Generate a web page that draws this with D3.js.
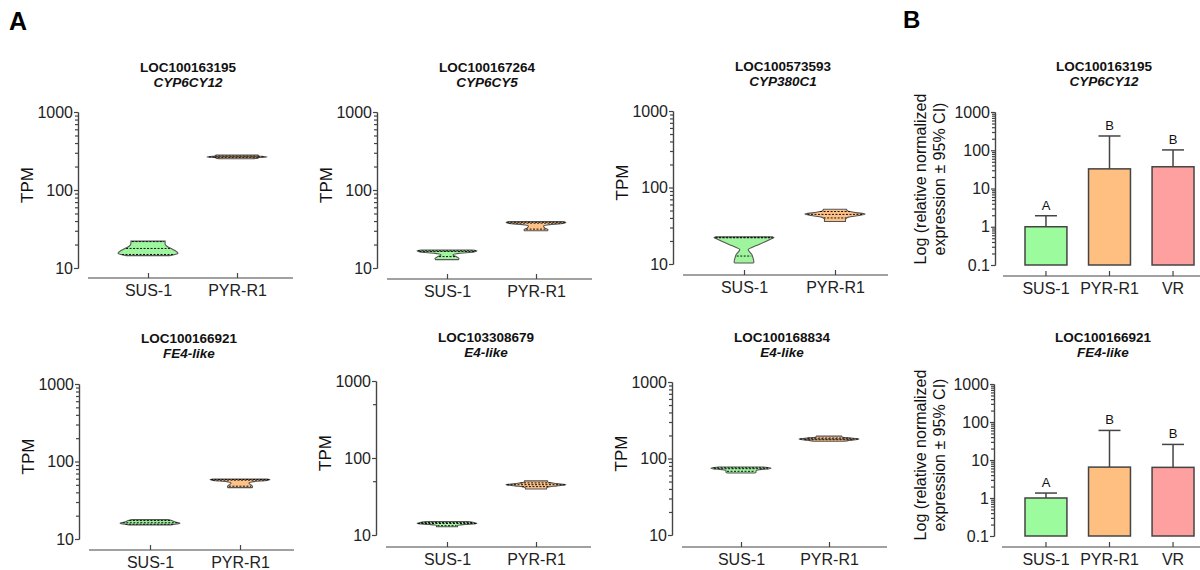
<!DOCTYPE html>
<html>
<head>
<meta charset="utf-8">
<script src="https://cdn.jsdelivr.net/npm/d3@7"></script>
<style>
  body { margin: 0; background: #fff; }
  text { font-family: "Liberation Sans", Arial, sans-serif; }
</style>
</head>
<body>
<script>
// ---- data ----
var groups = ['SUS-1', 'PYR-R1']
var barGroups = ['SUS-1', 'PYR-R1', 'VR']

var geneIds = ['LOC100163195', 'LOC100167264', 'LOC100573593', 'LOC100166921', 'LOC103308679', 'LOC100168834']
var geneNames = ['CYP6CY12', 'CYP6CY5', 'CYP380C1', 'FE4-like', 'E4-like', 'E4-like']

// violin outlines, top to bottom: [TPM, relative width]
var susProfiles = [
  [[22.1, 0.57], [20.5, 0.57], [19, 0.63], [17.5, 0.8], [16.2, 0.95], [15.5, 1.0], [14.9, 0.9], [14.4, 0.72]],
  [[17.0, 0.85], [16.6, 1.0], [16.0, 0.9], [15.4, 0.4], [14.7, 0.2], [14.0, 0.3], [13.3, 0.4], [12.8, 0.38]],
  [[22.6, 0.95], [22.2, 1.0], [21.2, 0.9], [19.5, 0.7], [18, 0.5], [16.7, 0.3], [15.5, 0.14], [14.5, 0.18], [13.5, 0.25], [12, 0.3], [10.6, 0.33], [10.3, 0.3]],
  [[17.8, 0.6], [17.3, 0.72], [16.5, 0.85], [16.0, 1.0], [15.6, 0.9], [15.2, 0.7]],
  [[14.9, 0.7], [14.5, 0.9], [14.1, 1.0], [13.7, 0.6], [13.3, 0.35], [12.8, 0.35]],
  [[77.5, 0.75], [75.5, 0.95], [74, 1.0], [72, 0.7], [69, 0.5], [66, 0.5], [64.5, 0.45]]
]
var pyrProfiles = [
  [[280, 0.7], [274, 0.72], [268, 0.9], [265, 1.0], [261, 0.72], [256, 0.7], [252, 0.5]],
  [[39.5, 0.9], [38.5, 1.0], [37.2, 0.9], [36, 0.45], [34.5, 0.25], [32.5, 0.3], [31, 0.4], [30, 0.38]],
  [[52, 0.38], [49.5, 0.42], [47, 0.7], [45, 1.0], [43, 0.8], [41, 0.45], [38.5, 0.35], [36, 0.35]],
  [[59.5, 0.9], [58.5, 1.0], [57, 0.9], [55, 0.45], [52.5, 0.3], [49.5, 0.38], [47, 0.42], [46, 0.4]],
  [[50.5, 0.38], [48.5, 0.4], [46.5, 0.7], [45, 1.0], [43.5, 0.7], [42, 0.4], [40.5, 0.35], [39.5, 0.35]],
  [[196, 0.42], [190, 0.45], [184, 0.8], [180, 1.0], [175, 0.8], [170, 0.6], [168, 0.5]]
]
// dashed quartile / median lines
var susQuartiles = [[21.8, 17.8, 14.9], [16.6, 16.3, 14.0], [22.3, 22.0, 12.7], [17.3, 16.2, 15.5], [14.5, 14.1, 13.2], [75.5, 73.5, 68]]
var pyrQuartiles = [[272, 266, 262], [38.5, 37.6, 31.5], [48.5, 44.5, 40], [58.5, 57.5, 48], [47.5, 45, 42.5], [185, 180, 176]]

var tpmTicks = [10, 100, 1000]
var relTicks = [0.1, 1, 10, 100, 1000]

var barGeneIds = ['LOC100163195', 'LOC100166921']
var barGeneNames = ['CYP6CY12', 'FE4-like']
var barMeans = [[1, 32.6, 37], [1, 6.5, 6.4]]
var barUpper = [[1.94, 236, 102], [1.35, 60, 25.7]]
var barLetters = ['A', 'B', 'B']

var violinColors = ['#9ef59e', '#ffc286']
var barColors = ['#9cfb9c', '#ffbf80', '#ffa0a0']

// ---- layout ----
var panels = [
  {ax: 78, top: 112, bot: 268, base: 278, title: 72, xt: [148, 237]},
  {ax: 377, top: 112, bot: 268, base: 279, title: 72, xt: [447, 536]},
  {ax: 673, top: 111, bot: 264, base: 275, title: 71, xt: [744, 835]},
  {ax: 79, top: 384, bot: 539, base: 550, title: 343, xt: [150, 240]},
  {ax: 376, top: 381, bot: 535, base: 547, title: 342, xt: [447, 536], sparse: true},
  {ax: 672, top: 382, bot: 535, base: 547, title: 342, xt: [741, 829]}
]
var barPanels = [
  {ax: 995, top: 112, bot: 265, base: 276, title: 71},
  {ax: 994, top: 384, bot: 536, base: 547, title: 342}
]

var svg = d3.select('body').append('svg')
  .attr('width', 1200).attr('height', 570)

function minorTicks(lo, hi) {
  var out = []
  for (var d = lo; d < hi; d *= 10) {
    for (var k = 2; k < 10; k++) out.push(+(d * k).toPrecision(3))
  }
  return out
}

function styleAxis(sel) {
  sel.attr('font-size', 16).attr('font-family', '"Liberation Sans", Arial, sans-serif').attr('color', '#222')
  sel.selectAll('path, line').attr('stroke', '#444').attr('stroke-width', 1.2)
}

function title(g, cx, y, id, name) {
  g.append('text').attr('x', cx).attr('y', y).attr('text-anchor', 'middle')
    .attr('font-size', 13.5).attr('font-weight', 'bold').attr('fill', '#111').text(id)
  g.append('text').attr('x', cx).attr('y', y + 15).attr('text-anchor', 'middle')
    .attr('font-size', 13.5).attr('font-weight', 'bold').attr('font-style', 'italic').attr('fill', '#111').text(name)
}

function widthAt(profile, v) {
  for (var k = 0; k < profile.length - 1; k++) {
    var a = profile[k], b = profile[k + 1]
    if (v <= a[0] && v >= b[0]) {
      var t = (Math.log(a[0]) - Math.log(v)) / (Math.log(a[0]) - Math.log(b[0]))
      return a[1] + t * (b[1] - a[1])
    }
  }
  return v > profile[0][0] ? profile[0][1] : profile[profile.length - 1][1]
}

// ---- violin panels ----
panels.forEach(function(p, i) {
  var g = svg.append('g')
  var y = d3.scaleLog().domain([10, 1000]).range([p.bot, p.top])
  var x = d3.scalePoint().domain(groups).range(p.xt)

  g.append('g').attr('transform', 'translate(' + p.ax + ',0)')
    .call(d3.axisLeft(y).tickValues(p.sparse ? [50, 500] : minorTicks(10, 1000)).tickSize(3).tickFormat('').tickSizeOuter(0))
    .call(styleAxis)
  g.append('g').attr('transform', 'translate(' + p.ax + ',0)')
    .call(d3.axisLeft(y).tickValues(tpmTicks).tickSize(4).tickPadding(1).tickFormat(d3.format('d')).tickSizeOuter(0))
    .call(styleAxis)

  g.append('line').attr('x1', p.ax + 10).attr('x2', p.ax + 215)
    .attr('y1', p.base).attr('y2', p.base).attr('stroke', '#444').attr('stroke-width', 1.2)
  g.append('g').attr('transform', 'translate(0,' + p.base + ')')
    .call(d3.axisBottom(x).tickSize(-5).tickPadding(7).tickSizeOuter(0))
    .call(styleAxis)
    .select('.domain').remove()

  g.append('text').attr('transform', 'translate(' + (p.ax - 45) + ',' + ((p.top + p.bot) / 2 - 5) + ') rotate(-90)')
    .attr('text-anchor', 'middle').attr('font-size', 17).attr('fill', '#111').text('TPM')

  title(g, p.ax + 110, p.title, geneIds[i], geneNames[i])

  var sets = [[susProfiles[i], susQuartiles[i]], [pyrProfiles[i], pyrQuartiles[i]]]
  sets.forEach(function(s, j) {
    var cx = x(groups[j])
    var area = d3.area().curve(d3.curveMonotoneY)
      .y(function(d) { return y(d[0]) })
      .x0(function(d) { return cx - d[1] * 30 })
      .x1(function(d) { return cx + d[1] * 30 })
    g.append('path').datum(s[0]).attr('d', area)
      .attr('fill', violinColors[j]).attr('stroke', '#555').attr('stroke-width', 1.1)
    s[1].forEach(function(q) {
      var w = widthAt(s[0], q) * 30 - 1
      g.append('line').attr('x1', cx - w).attr('x2', cx + w)
        .attr('y1', y(q)).attr('y2', y(q))
        .attr('stroke', '#111').attr('stroke-width', 1).attr('stroke-dasharray', '2,1.5')
    })
  })
})

// ---- qPCR bar panels ----
barPanels.forEach(function(p, i) {
  var g = svg.append('g')
  var y = d3.scaleLog().domain([0.1, 1000]).range([p.bot, p.top])
  var x = d3.scaleBand().domain(barGroups).range([1025, 1194]).paddingInner(0.34)

  g.append('g').attr('transform', 'translate(' + p.ax + ',0)')
    .call(d3.axisLeft(y).tickValues(minorTicks(0.1, 1000)).tickSize(3).tickFormat('').tickSizeOuter(0))
    .call(styleAxis)
  g.append('g').attr('transform', 'translate(' + p.ax + ',0)')
    .call(d3.axisLeft(y).tickValues(relTicks).tickSize(4).tickPadding(1)
      .tickFormat(function(d) { return d < 1 ? String(d) : d3.format('d')(d) }).tickSizeOuter(0))
    .call(styleAxis)

  g.append('line').attr('x1', p.ax + 8).attr('x2', 1200)
    .attr('y1', p.base).attr('y2', p.base).attr('stroke', '#444').attr('stroke-width', 1.2)
  g.append('g').attr('transform', 'translate(0,' + p.base + ')')
    .call(d3.axisBottom(x).tickSize(-5).tickPadding(7).tickSizeOuter(0))
    .call(styleAxis)
    .select('.domain').remove()

  var lab = g.append('text').attr('transform', 'translate(0,' + (i === 0 ? 179 : 455) + ') rotate(-90)')
    .attr('text-anchor', 'middle').attr('font-size', 16).attr('fill', '#111')
  lab.append('tspan').attr('x', 0).attr('y', 926).text('Log (relative normalized')
  lab.append('tspan').attr('x', 0).attr('y', 945).text('expression \u00b1 95% CI)')

  title(g, p.ax + 109, p.title, barGeneIds[i], barGeneNames[i])

  barGroups.forEach(function(b, j) {
    var cx = x(b) + x.bandwidth() / 2
    var m = barMeans[i][j], u = barUpper[i][j]
    g.append('line').attr('x1', cx).attr('x2', cx).attr('y1', y(m)).attr('y2', y(u))
      .attr('stroke', '#444').attr('stroke-width', 1.5)
    g.append('line').attr('x1', cx - 11).attr('x2', cx + 11).attr('y1', y(u)).attr('y2', y(u))
      .attr('stroke', '#444').attr('stroke-width', 1.5)
    g.append('rect').attr('x', x(b)).attr('y', y(m))
      .attr('width', x.bandwidth()).attr('height', y(0.1) - y(m))
      .attr('fill', barColors[j]).attr('stroke', '#444').attr('stroke-width', 1.5)
    g.append('text').attr('x', cx).attr('y', y(u) - 6).attr('text-anchor', 'middle')
      .attr('font-size', 13).attr('fill', '#111').text(barLetters[j])
  })
})

// panel letters
svg.append('text').attr('x', 9).attr('y', 30).attr('font-size', 25).attr('font-weight', 'bold').text('A')
svg.append('text').attr('x', 903).attr('y', 28).attr('font-size', 24).attr('font-weight', 'bold').text('B')
</script>
</body>
</html>
